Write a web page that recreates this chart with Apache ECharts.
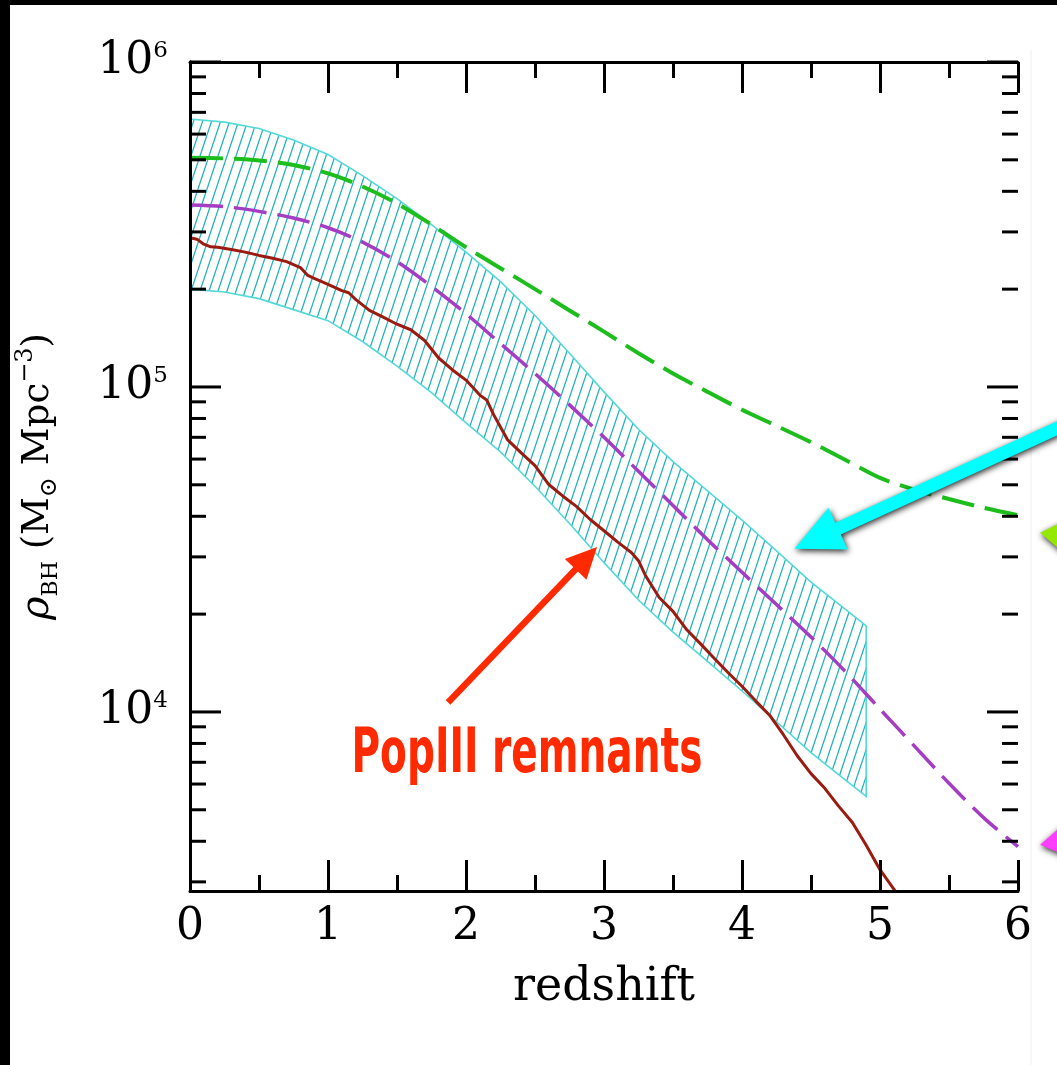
<!DOCTYPE html>
<html>
<head>
<meta charset="utf-8">
<title>Black hole mass density vs redshift</title>
<script src="https://cdn.jsdelivr.net/npm/echarts@6/dist/echarts.min.js"></script>
<style>
  html, body { margin: 0; padding: 0; background: #fff; }
  #chart { width: 1057px; height: 1065px; }
</style>
</head>
<body>
<div id="chart"></div>
<script>
// ---- axis ticks -------------------------------------------------------
const redshiftTicks = [0, 1, 2, 3, 4, 5, 6];
const rhoMajorTicks = [1e4, 1e5, 1e6];
const rhoMinorTicks = [3e3, 4e3, 5e3, 6e3, 7e3, 8e3, 9e3,
                       2e4, 3e4, 4e4, 5e4, 6e4, 7e4, 8e4, 9e4,
                       2e5, 3e5, 4e5, 5e5, 6e5, 7e5, 8e5, 9e5];
const rhoMin = 2812, rhoMax = 1e6;

// ---- observational band (hatched), z = 0 .. 4.9 ----------------------
const bandZ     = [0, 0.25, 0.5, 0.75, 1.0, 1.25, 1.5, 1.75, 2.0, 2.25, 2.5, 2.75,
                   3.0, 3.25, 3.5, 3.75, 4.0, 4.25, 4.5, 4.75, 4.9];
const bandUpper = [668000, 653000, 624000, 575000, 519000, 447000, 380000, 316000,
                   260000, 211000, 166000, 127000, 96600, 74100, 58900, 47900,
                   38900, 31300, 25100, 20700, 18400];
const bandLower = [200000, 196000, 187000, 173000, 160000, 138000, 116000, 96000,
                   77600, 63100, 49500, 38000, 28800, 22100, 17600, 14300,
                   11600, 9330, 7500, 6170, 5500];

// ---- model curves (dashed), z = 0 .. 6 --------------------------------
const curveZ     = [0, 0.25, 0.5, 0.75, 1.0, 1.25, 1.5, 1.75, 2.0, 2.25, 2.5, 2.75, 3.0,
                    3.25, 3.5, 3.75, 4.0, 4.25, 4.5, 4.75, 5.0, 5.25, 5.5, 5.75, 6.0];
const greenModel = [507000, 505000, 498000, 482000, 454000, 414000, 367000, 316000,
                    269000, 232000, 200000, 172000, 148000, 127000, 110000, 96600,
                    85100, 75900, 67600, 59600, 52500, 48300, 45200, 42500, 40300];
const purpleModel = [363000, 359000, 347000, 331000, 309000, 279000, 243000, 204000,
                     168000, 136000, 110000, 88100, 70000, 55000, 43200, 33900,
                     26900, 21400, 17000, 13300, 10200, 7850, 6030, 4730, 3850];

// ---- PopIII remnants (solid) ------------------------------------------
const remnantZ   = [0.0, 0.05, 0.1, 0.15, 0.2, 0.3, 0.4, 0.5, 0.6, 0.7, 0.8, 0.85, 0.9,
                    1.0, 1.1, 1.15, 1.2, 1.3, 1.4, 1.5, 1.6, 1.7, 1.8, 1.9, 2.0, 2.1,
                    2.15, 2.2, 2.3, 2.4, 2.5, 2.6, 2.7, 2.8, 2.9, 3.0, 3.1, 3.2, 3.25,
                    3.3, 3.4, 3.5, 3.6, 3.7, 3.8, 3.9, 4.0, 4.1, 4.2, 4.3, 4.4, 4.5,
                    4.6, 4.7, 4.8, 4.9, 5.0, 5.1, 5.2];
const remnantRho = [288000, 285000, 275000, 270000, 269000, 265000, 260000, 254000,
                    249000, 243000, 233000, 221000, 216000, 207000, 198000, 195000,
                    186000, 172000, 164000, 156000, 150000, 139000, 123000, 113000,
                    105000, 94400, 91200, 82200, 68900, 62700, 57300, 50100, 46200,
                    42900, 39100, 36100, 33300, 30900, 29200, 26300, 22500, 20400,
                    17900, 16200, 14600, 13200, 12000, 10800, 9770, 8510, 7330, 6460,
                    5820, 5130, 4570, 3890, 3270, 2850, 2450];

// ---- annotation anchors, in (redshift, rho) ---------------------------
const remnantArrowTail = [1.87, 10700];
const remnantArrowTip  = [2.95, 32200];
const remnantLabelAt   = [1.17, 6530];     // left end, baseline
const bandArrowTail    = [6.41, 79000];
const bandArrowTip     = [4.38, 31800];
const greenArrowTip    = [6.16, 35600];
const purpleArrowTip   = [6.16, 3900];

const serif = '"DejaVu Serif", "Liberation Serif", serif';
const isDecade = v => { const l = Math.log10(v); return Math.abs(l - Math.round(l)) < 1e-6; };

function hatchPattern() {
  const c = document.createElement('canvas');
  c.width = 9; c.height = 27;
  const g = c.getContext('2d');
  g.strokeStyle = '#1fb3b8';
  g.lineWidth = 1.25;
  for (let k = -1; k <= 1; k++) {
    g.beginPath();
    g.moveTo(k * 9, 27);
    g.lineTo(k * 9 + 9, 0);
    g.stroke();
  }
  return c;
}
const hatch = hatchPattern();

const chart = echarts.init(document.getElementById('chart'), null, { renderer: 'canvas' });

const xAxisBase = {
  type: 'value', min: 0, max: 6, interval: 1, z: 5,
  axisLine: { lineStyle: { color: '#000', width: 3 } },
  axisTick: { inside: true, length: 31, lineStyle: { color: '#000', width: 3 } },
  minorTick: { show: true, splitNumber: 2, length: 16, lineStyle: { color: '#000', width: 3 } },
  splitLine: { show: false },
  minorSplitLine: { show: false }
};
const yAxisBase = {
  type: 'log', logBase: 10, min: rhoMin, max: rhoMax, z: 5,
  axisLine: { lineStyle: { color: '#000', width: 3 } },
  axisTick: { show: false },
  splitLine: { show: false }
};

chart.setOption({
  animation: false,
  backgroundColor: '#fff',
  textStyle: { fontFamily: serif },
  grid: { left: 190, top: 62, right: 39, bottom: 174, containLabel: false, outerBoundsMode: 'none' },
  xAxis: [
    Object.assign({}, xAxisBase, {
      position: 'bottom',
      axisLabel: {
        fontFamily: serif, fontSize: 44, color: '#000', margin: 15,
        formatter: v => redshiftTicks.includes(v) ? String(v) : ''
      },
      name: 'redshift', nameLocation: 'middle', nameGap: 74,
      nameTextStyle: { fontFamily: serif, fontSize: 46, color: '#000' }
    }),
    Object.assign({}, xAxisBase, { position: 'top', axisLabel: { show: false } })
  ],
  yAxis: [
    Object.assign({}, yAxisBase, {
      position: 'left',
      axisLabel: {
        margin: 22, color: '#000',
        formatter: v => isDecade(v) ? '{b|10}{e|' + Math.round(Math.log10(v)) + '}' : '',
        rich: {
          b: { fontFamily: serif, fontSize: 44, lineHeight: 44, color: '#000' },
          e: { fontFamily: serif, fontSize: 23, lineHeight: 26, verticalAlign: 'top', color: '#000' }
        }
      },
      name: '{r|ρ}{s|BH}{t| (M}{o|⊙}{t| Mpc}{p|−3}{t|)}',
      nameLocation: 'middle', nameRotate: 90, nameGap: 128,
      nameTextStyle: {
        color: '#000',
        rich: {
          r: { fontFamily: serif, fontStyle: 'italic', fontSize: 40, lineHeight: 48, color: '#000' },
          s: { fontFamily: serif, fontSize: 22, lineHeight: 30, verticalAlign: 'bottom', color: '#000' },
          t: { fontFamily: serif, fontSize: 37, lineHeight: 48, color: '#000' },
          o: { fontFamily: serif, fontSize: 24, lineHeight: 30, verticalAlign: 'bottom', color: '#000' },
          p: { fontFamily: serif, fontSize: 24, lineHeight: 30, verticalAlign: 'top', color: '#000' }
        }
      }
    }),
    Object.assign({}, yAxisBase, { position: 'right', axisLabel: { show: false } })
  ],
  series: [
    {
      // hatched band between lower and upper estimates
      name: 'band', type: 'custom', z: 1,
      data: bandZ.map((z, i) => [z, bandUpper[i]]),
      encode: { x: 0, y: 1 },
      renderItem(params, api) {
        if (params.dataIndex !== 0) return null;
        const pts = [];
        for (let i = 0; i < bandZ.length; i++) pts.push(api.coord([bandZ[i], bandUpper[i]]));
        for (let i = bandZ.length - 1; i >= 0; i--) pts.push(api.coord([bandZ[i], bandLower[i]]));
        return {
          type: 'polygon',
          shape: { points: pts },
          style: { fill: { image: hatch, repeat: 'repeat' }, stroke: '#55d8d8', lineWidth: 1.6 }
        };
      }
    },
    {
      name: 'green model', type: 'line', z: 3, showSymbol: false, smooth: 0.3,
      data: curveZ.map((z, i) => [z, greenModel[i]]),
      lineStyle: { color: '#1cbd1c', width: 4, type: [33, 11] }
    },
    {
      name: 'purple model', type: 'line', z: 3, showSymbol: false, smooth: 0.3,
      data: curveZ.map((z, i) => [z, purpleModel[i]]),
      lineStyle: { color: '#a53cc4', width: 3.5, type: [33, 11] }
    },
    {
      name: 'PopIII remnants', type: 'line', z: 4, showSymbol: false, clip: true,
      data: remnantZ.map((z, i) => [z, remnantRho[i]]),
      lineStyle: { color: '#9b1b10', width: 3 }
    },
    {
      // log-axis ticks on both vertical frame sides
      name: 'rho ticks', type: 'custom', z: 6,
      data: rhoMajorTicks.concat(rhoMinorTicks).map(v => [0, v]),
      encode: { x: 0, y: 1 },
      renderItem(params, api) {
        const v = api.value(1);
        const len = isDecade(v) ? 31 : 16;
        const l = api.coord([0, v]);
        const r = api.coord([6, v]);
        const st = { stroke: '#000', lineWidth: 3 };
        return {
          type: 'group',
          children: [
            { type: 'line', shape: { x1: l[0], y1: l[1], x2: l[0] + len, y2: l[1] }, style: st },
            { type: 'line', shape: { x1: r[0] - len, y1: r[1], x2: r[0], y2: r[1] }, style: st }
          ]
        };
      }
    }
  ]
});

// ---- annotations -------------------------------------------------------
const px = p => chart.convertToPixel({ xAxisIndex: 0, yAxisIndex: 0 }, p);

function arrowShape(tail, tip, shaftW, headLen, headHalfW) {
  const dx = tip[0] - tail[0], dy = tip[1] - tail[1];
  const L = Math.hypot(dx, dy);
  const ux = dx / L, uy = dy / L, nx = -uy, ny = ux;
  const bx = tip[0] - ux * headLen, by = tip[1] - uy * headLen;
  const h = shaftW / 2;
  return [
    [tail[0] + nx * h, tail[1] + ny * h],
    [bx + nx * h, by + ny * h],
    [bx + nx * headHalfW, by + ny * headHalfW],
    tip,
    [bx - nx * headHalfW, by - ny * headHalfW],
    [bx - nx * h, by - ny * h],
    [tail[0] - nx * h, tail[1] - ny * h]
  ];
}

const shadow = { shadowBlur: 6, shadowColor: 'rgba(0,0,0,0.85)', shadowOffsetX: 1, shadowOffsetY: 2 };

// label font, squeezed to the label's width
const labelFont = 'bold 62px "Liberation Sans Narrow", "DejaVu Sans Condensed", "Open Sans", sans-serif';
const meas = document.createElement('canvas').getContext('2d');
meas.font = labelFont;
meas.textBaseline = 'middle';
const labelText = 'PopIII remnants';
const labelW = meas.measureText(labelText).width;
const midToBase = meas.measureText('P').actualBoundingBoxDescent;
const labelPos = px(remnantLabelAt);

const gTip = px(greenArrowTip), mTip = px(purpleArrowTip);

chart.setOption({
  graphic: [
    { type: 'polygon', z: 50, shape: { points: arrowShape(px(remnantArrowTail), px(remnantArrowTip), 6.5, 31, 15) },
      style: { fill: '#ff2a00' } },
    { type: 'text', z: 50, x: labelPos[0], y: labelPos[1] - midToBase, scaleX: 351 / labelW,
      style: { text: labelText, font: labelFont, fill: '#ff2a00', align: 'left', verticalAlign: 'middle' } },
    { type: 'polygon', z: 50, shape: { points: arrowShape(px(bandArrowTail), px(bandArrowTip), 13, 48, 23) },
      style: Object.assign({ fill: '#00ffff' }, shadow) },
    { type: 'polygon', z: 50, shape: { points: [gTip, [gTip[0] + 50, gTip[1] - 24], [gTip[0] + 50, gTip[1] + 43]] },
      style: Object.assign({ fill: '#95e800' }, shadow) },
    { type: 'polygon', z: 50, shape: { points: [mTip, [mTip[0] + 50, mTip[1] - 44], [mTip[0] + 50, mTip[1] + 21]] },
      style: Object.assign({ fill: '#ff3dff' }, shadow) },
    { type: 'line', z: 40, shape: { x1: 1031, y1: 50, x2: 1031, y2: 1065 }, style: { stroke: '#f0f0f0', lineWidth: 1 } },
    { type: 'rect', z: 60, shape: { x: 0, y: 0, width: 10, height: 1065 }, style: { fill: '#000' } },
    { type: 'rect', z: 60, shape: { x: 0, y: 0, width: 1057, height: 5 }, style: { fill: '#000' } }
  ]
});
</script>
</body>
</html>
